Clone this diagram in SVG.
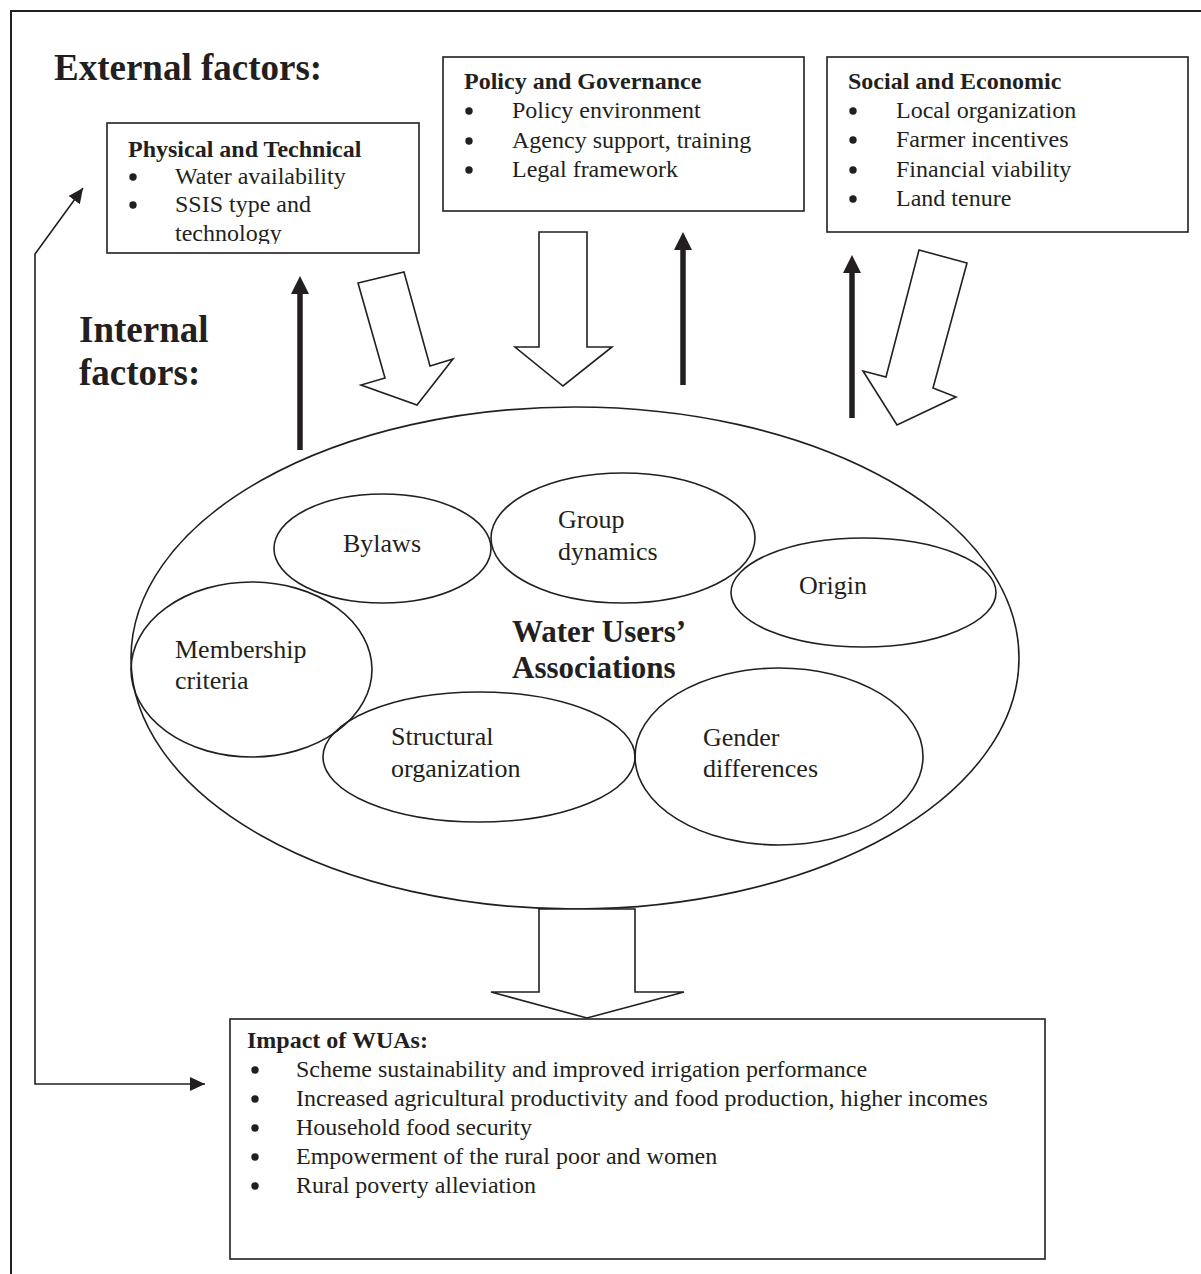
<svg xmlns="http://www.w3.org/2000/svg" width="1201" height="1274" viewBox="0 0 1201 1274">
<style>
  text { font-family: "Liberation Serif", "Times New Roman", serif; fill: #231f20; }
  .h1 { font-size: 37px; font-weight: bold; }
  .h2 { font-size: 24px; font-weight: bold; }
  .t { font-size: 24px; }
  .e { font-size: 26px; }
  .wua { font-size: 31px; font-weight: bold; }
  .bul { fill: #231f20; }
  .box { fill: #ffffff; stroke: #231f20; stroke-width: 1.6; }
  .ell { fill: none; stroke: #231f20; stroke-width: 1.6; }
  .block { fill: #ffffff; stroke: #231f20; stroke-width: 1.6; stroke-linejoin: miter; }
  .thick { stroke: #231f20; stroke-width: 5.5; fill: none; }
  .thin { stroke: #231f20; stroke-width: 1.6; fill: none; }
  .frame { stroke: #231f20; stroke-width: 2; fill: none; }
</style>
<defs>
  <marker id="headThick" markerUnits="userSpaceOnUse" markerWidth="18" markerHeight="18" viewBox="0 0 18 18" refX="0" refY="9" orient="auto">
    <path d="M0,0 L18,9 L0,18 z" fill="#231f20"/>
  </marker>
  <marker id="headThin" markerUnits="userSpaceOnUse" markerWidth="15" markerHeight="14" viewBox="0 0 15 14" refX="15" refY="7" orient="auto-start-reverse">
    <path d="M0,0 L15,7 L0,14 z" fill="#231f20"/>
  </marker>
  <circle id="dot" r="3.7" class="bul"/>
  <clipPath id="physClip"><rect x="107" y="123" width="312" height="121"/></clipPath>
</defs>
<rect x="0" y="0" width="1201" height="1274" fill="#ffffff"/>
<g id="frame">
  <path class="frame" d="M11,1274 V11 H1201"/>
</g>
<g id="headings">
  <text class="h1" x="54" y="80">External factors:</text>
  <text class="h1" x="79" y="342">Internal</text>
  <text class="h1" x="79" y="385">factors:</text>
</g>
<g id="physical-technical">
  <rect class="box" x="107" y="123" width="312" height="130"/>
  <g clip-path="url(#physClip)">
    <text class="h2" x="128" y="157">Physical and Technical</text>
    <use href="#dot" x="133" y="177"/>
    <text class="t" x="175" y="184">Water availability</text>
    <use href="#dot" x="133" y="205"/>
    <text class="t" x="175" y="212">SSIS type and</text>
    <text class="t" x="175" y="241">technology</text>
  </g>
</g>
<g id="policy-governance">
  <rect class="box" x="443" y="57" width="361" height="154"/>
  <text class="h2" x="464" y="89">Policy and Governance</text>
  <use href="#dot" x="469" y="111"/>
  <text class="t" x="512" y="118">Policy environment</text>
  <use href="#dot" x="469" y="141"/>
  <text class="t" x="512" y="148">Agency support, training</text>
  <use href="#dot" x="469" y="170"/>
  <text class="t" x="512" y="177">Legal framework</text>
</g>
<g id="social-economic">
  <rect class="box" x="827" y="57" width="361" height="175"/>
  <text class="h2" x="848" y="89">Social and Economic</text>
  <use href="#dot" x="853" y="111"/>
  <text class="t" x="896" y="118">Local organization</text>
  <use href="#dot" x="853" y="140"/>
  <text class="t" x="896" y="147">Farmer incentives</text>
  <use href="#dot" x="853" y="170"/>
  <text class="t" x="896" y="177">Financial viability</text>
  <use href="#dot" x="853" y="199"/>
  <text class="t" x="896" y="206">Land tenure</text>
</g>
<g id="wua">
  <ellipse class="ell" cx="575" cy="658" rx="444" ry="251"/>
  <text class="wua" x="512" y="642">Water Users’</text>
  <text class="wua" x="512" y="678">Associations</text>
</g>
<g id="bylaws">
  <ellipse class="ell" cx="382.5" cy="548.5" rx="108.5" ry="54.5"/>
  <text class="e" x="343" y="552">Bylaws</text>
</g>
<g id="group-dynamics">
  <ellipse class="ell" cx="623" cy="538" rx="132" ry="65"/>
  <text class="e" x="558" y="528">Group</text>
  <text class="e" x="558" y="560">dynamics</text>
</g>
<g id="origin">
  <ellipse class="ell" cx="863.5" cy="592.5" rx="132.5" ry="54.5"/>
  <text class="e" x="799" y="594">Origin</text>
</g>
<g id="membership-criteria">
  <ellipse class="ell" cx="251.5" cy="669.5" rx="120.5" ry="87.5"/>
  <text class="e" x="175" y="658">Membership</text>
  <text class="e" x="175" y="689">criteria</text>
</g>
<g id="structural-organization">
  <ellipse class="ell" cx="479" cy="757" rx="156" ry="65"/>
  <text class="e" x="391" y="745">Structural</text>
  <text class="e" x="391" y="777">organization</text>
</g>
<g id="gender-differences">
  <ellipse class="ell" cx="779" cy="756.5" rx="144" ry="88.5"/>
  <text class="e" x="703" y="746">Gender</text>
  <text class="e" x="703" y="777">differences</text>
</g>
<g id="impact">
  <rect class="box" x="230" y="1019" width="815" height="240"/>
  <text class="h2" x="247" y="1048">Impact of WUAs:</text>
  <use href="#dot" x="255" y="1070"/>
  <text class="t" x="296" y="1077">Scheme sustainability and improved irrigation performance</text>
  <use href="#dot" x="255" y="1099"/>
  <text class="t" x="296" y="1106">Increased agricultural productivity and food production, higher incomes</text>
  <use href="#dot" x="255" y="1128"/>
  <text class="t" x="296" y="1135">Household food security</text>
  <use href="#dot" x="255" y="1157"/>
  <text class="t" x="296" y="1164">Empowerment of the rural poor and women</text>
  <use href="#dot" x="255" y="1186"/>
  <text class="t" x="296" y="1193">Rural poverty alleviation</text>
</g>
<g id="connectors">
  <polygon class="block" points="358,283 404,272 430,366 453,359 417,405 361,385 385,378"/>
  <polygon class="block" points="539,232 587,232 587,347 612,347 563,386 515,347 539,347"/>
  <polygon class="block" points="919,250 967,263 933,388 956,397 897,425 863,371 886,377"/>
  <polygon class="block" points="539,909 635,909 635,992 684,992 587,1018 491,992 539,992"/>
  <line class="thick" x1="300" y1="450" x2="300" y2="294" marker-end="url(#headThick)"/>
  <line class="thick" x1="683" y1="385" x2="683" y2="250" marker-end="url(#headThick)"/>
  <line class="thick" x1="852" y1="418" x2="852" y2="273" marker-end="url(#headThick)"/>
  <path class="thin" d="M205,1084 H35 V254 L83,188" marker-start="url(#headThin)" marker-end="url(#headThin)"/>
</g>
</svg>
